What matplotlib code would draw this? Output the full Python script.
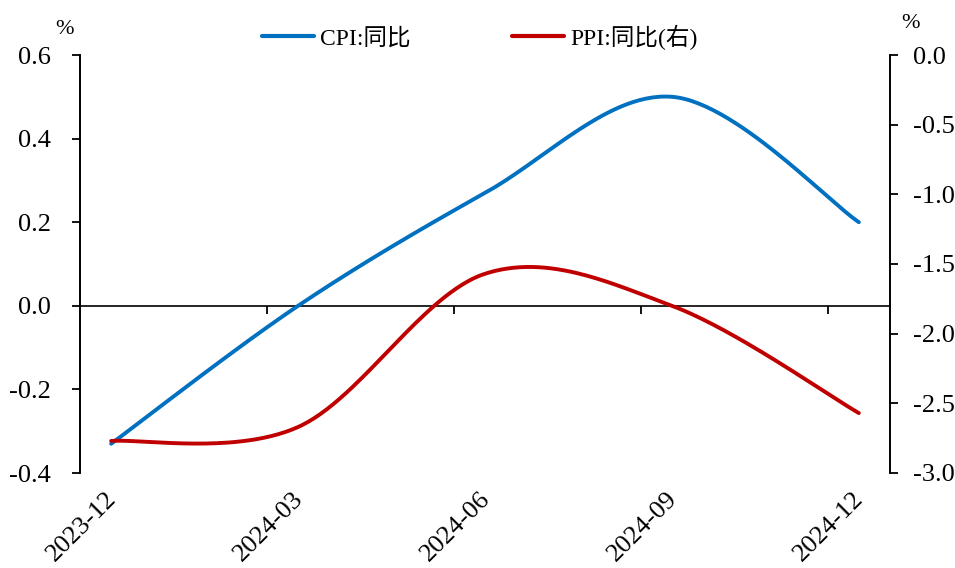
import numpy as np
import matplotlib
matplotlib.use("Agg")
import matplotlib.pyplot as plt
import matplotlib.transforms as mtransforms
from matplotlib.lines import Line2D

plt.rcParams['font.family'] = ['Liberation Serif', 'Noto Sans CJK SC']
plt.rcParams['axes.unicode_minus'] = False

# Quarterly year-on-year readings, placed on a monthly axis
quarters = ["2023-12", "2024-03", "2024-06", "2024-09", "2024-12"]
month_pos = [0, 3, 6, 9, 12]
cpi_yoy = [-0.33, 0.0, 0.27, 0.5, 0.2]
ppi_yoy = [-2.77, -2.67, -1.57, -1.8, -2.57]

left_ticks = [-0.4, -0.2, 0.0, 0.2, 0.4, 0.6]
right_ticks = [-3.0, -2.5, -2.0, -1.5, -1.0, -0.5, 0.0]

BLUE = "#0070C0"
RED = "#C00000"


def smooth_curve(xs, ys, n=60):
    """Cubic Bezier smoothing through every point (Catmull-Rom style tangents)."""
    p = np.column_stack([xs, ys]).astype(float)
    out = []
    for i in range(len(p) - 1):
        p0 = p[i - 1] if i > 0 else p[i]
        p1, p2 = p[i], p[i + 1]
        p3 = p[i + 2] if i + 2 < len(p) else p[i + 1]
        c1 = p1 + (p2 - p0) / 6.0
        c2 = p2 - (p3 - p1) / 6.0
        t = np.linspace(0, 1, n)[:, None]
        seg = ((1 - t) ** 3) * p1 + 3 * ((1 - t) ** 2) * t * c1 + 3 * (1 - t) * t ** 2 * c2 + t ** 3 * p2
        out.append(seg if i == 0 else seg[1:])
    pts = np.vstack(out)
    return pts[:, 0], pts[:, 1]


fig = plt.figure(figsize=(9.55, 5.68), dpi=100)
ax = fig.add_axes([80 / 955, 1 - 473 / 568, 810 / 955, 418 / 568])
ax2 = ax.twinx()

cx, cy = smooth_curve(month_pos, cpi_yoy)
px, py = smooth_curve(month_pos, ppi_yoy)
ax.plot(cx, cy, color=BLUE, lw=2.8, solid_capstyle='round', zorder=3)
ax2.plot(px, py, color=RED, lw=2.8, solid_capstyle='round', zorder=3)

ax.set_xlim(-0.5, 12.5)
ax.set_ylim(-0.4, 0.6)
ax2.set_ylim(-3.0, 0.0)

# Left axis
ax.set_yticks(left_ticks)
ax.set_yticklabels([f"{v:.1f}" for v in left_ticks])
ax.tick_params(axis='y', direction='out', length=5.8, width=1.3, labelsize=19, pad=15)
ax.spines['left'].set_linewidth(1.4)
ax.spines['top'].set_visible(False)
ax.spines['right'].set_visible(False)

# Horizontal axis drawn through zero, ticks on quarter boundaries
ax.spines['bottom'].set_position(('data', 0))
ax.spines['bottom'].set_linewidth(1.2)
ax.set_xticks([2.5, 5.5, 8.5, 11.5])
ax.set_xticklabels([])
ax.tick_params(axis='x', direction='out', length=5.8, width=1.3)

# Date labels along the bottom edge
trans = mtransforms.blended_transform_factory(ax.transData, ax.transAxes)
for xp, lab in zip(month_pos, quarters):
    ax.text(xp - 0.1, -0.036, lab, transform=trans, rotation=45, ha='right', va='top',
            rotation_mode='anchor', fontsize=19)

# Right axis
ax2.set_yticks(right_ticks)
ax2.set_yticklabels([f"{v:.1f}" for v in right_ticks])
ax2.tick_params(axis='y', direction='out', length=5.8, width=1.3, labelsize=19, pad=11)
ax2.spines['right'].set_linewidth(1.4)
for s in ['left', 'top', 'bottom']:
    ax2.spines[s].set_visible(False)

# Units
fig.text(64 / 955, 1 - 29 / 568, "%", ha='center', va='center', fontsize=16)
fig.text(910 / 955, 1 - 24 / 568, "%", ha='center', va='center', fontsize=16)

handles = [Line2D([], [], color=BLUE, lw=3.0, solid_capstyle='round'),
           Line2D([], [], color=RED, lw=3.0, solid_capstyle='round')]
fig.legend(handles, ["CPI:同比", "PPI:同比(右)"], loc='center', bbox_to_anchor=(480 / 955, 1 - 37 / 568),
           ncol=2, frameon=False, fontsize=17, handlelength=2.2, handletextpad=0.25,
           columnspacing=4.3)

fig.savefig("out.png", dpi=100)
